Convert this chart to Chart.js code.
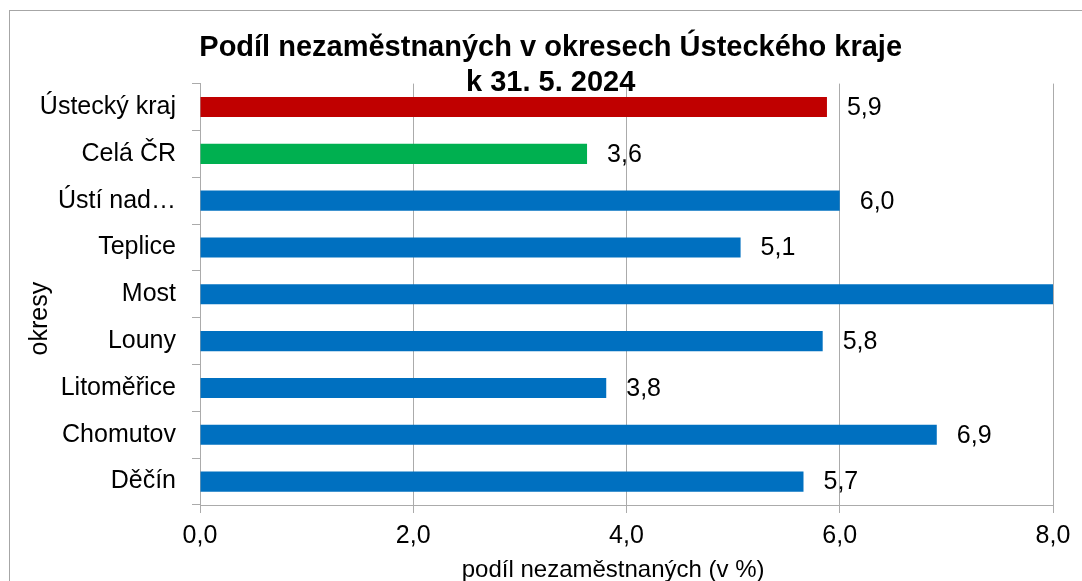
<!DOCTYPE html>
<html>
<head>
<meta charset="utf-8">
<script src="https://cdn.jsdelivr.net/npm/chart.js@4.4.1/dist/chart.umd.min.js"></script>
<style>
  html, body { margin: 0; padding: 0; background: #ffffff; overflow: hidden; }
  #frame { position: absolute; left: 9px; top: 10px; width: 1200px; height: 700px;
           border-left: 1px solid #a6a6a6; border-top: 1px solid #a6a6a6; }
  #c { position: absolute; left: 0; top: 0; }
</style>
</head>
<body>
<div id="frame"></div>
<canvas id="c" width="1082" height="581"></canvas>
<script>
const categories = ["Ústecký kraj", "Celá ČR", "Ústí nad Labem", "Teplice", "Most", "Louny", "Litoměřice", "Chomutov", "Děčín"];
const values = [5.88, 3.63, 6.0, 5.07, 8.4, 5.84, 3.81, 6.91, 5.66];
const barColors = ["#C00000", "#00B050", "#0070C0", "#0070C0", "#0070C0", "#0070C0", "#0070C0", "#0070C0", "#0070C0"];
const xTicks = [0, 2, 4, 6, 8];
const titleLines = ["Podíl nezaměstnaných v okresech Ústeckého kraje", "k 31. 5. 2024"];
const xTitle = "podíl nezaměstnaných (v %)";
const yTitle = "okresy";

const FONT = "'Liberation Sans', Arial, sans-serif";
const fmt = v => v.toFixed(1).replace('.', ',');
const pad = "      ";

const dataLabels = {
  id: 'dataLabels',
  afterDatasetsDraw(chart) {
    const ctx = chart.ctx;
    const meta = chart.getDatasetMeta(0);
    const xs = chart.scales.x;
    ctx.save();
    ctx.font = "25px " + FONT;
    ctx.fillStyle = "#000000";
    ctx.textAlign = "left";
    ctx.textBaseline = "middle";
    meta.data.forEach((bar, i) => {
      const v = values[i];
      if (v > xs.max) return;
      ctx.fillText(fmt(v), bar.x + 20, bar.y + 1);
    });
    ctx.restore();
  }
};

new Chart(document.getElementById('c'), {
  type: 'bar',
  data: {
    labels: categories,
    datasets: [{
      data: values,
      backgroundColor: barColors,
      borderWidth: 0,
      categoryPercentage: 1.0,
      barPercentage: 0.43
    }]
  },
  options: {
    indexAxis: 'y',
    responsive: false,
    animation: false,
    devicePixelRatio: 1,
    layout: { padding: { left: 0, right: 29, top: 0, bottom: 0 } },
    plugins: {
      legend: { display: false },
      tooltip: { enabled: false },
      title: {
        display: true,
        text: titleLines.map(t => pad + t),
        color: "#000000",
        font: { family: FONT, size: 29, weight: 'bold', lineHeight: 1.2 },
        padding: { top: 31, bottom: -17 }
      }
    },
    scales: {
      x: {
        min: 0,
        max: 8,
        afterBuildTicks: s => { s.ticks = xTicks.map(v => ({ value: v })); },
        afterFit: s => { s.height = 76; },
        ticks: {
          callback: v => fmt(v),
          color: "#000000",
          font: { family: FONT, size: 25 },
          padding: 8,
          maxRotation: 0
        },
        grid: { color: "#ababab", lineWidth: 1, tickLength: 8, drawTicks: true },
        border: { color: "#ababab", width: 1 },
        title: {
          display: true,
          text: xTitle + "    ",
          color: "#000000",
          font: { family: FONT, size: 24 },
          padding: { top: 0, bottom: -4 }
        }
      },
      y: {
        afterFit: s => { s.width = 200; },
        ticks: {
          callback: function(v, i) {
            const t = categories[i];
            return t.length > 12 ? "Ústí nad…" : t;
          },
          color: "#000000",
          font: { family: FONT, size: 25 },
          padding: 16
        },
        grid: { drawOnChartArea: false, color: "#ababab", tickLength: 8, offset: true },
        border: { color: "#ababab", width: 1 },
        title: {
          display: true,
          text: yTitle + "       ",
          color: "#000000",
          font: { family: FONT, size: 25 },
          padding: { top: 25, bottom: 0 }
        }
      }
    }
  },
  plugins: [dataLabels]
});
</script>
</body>
</html>
